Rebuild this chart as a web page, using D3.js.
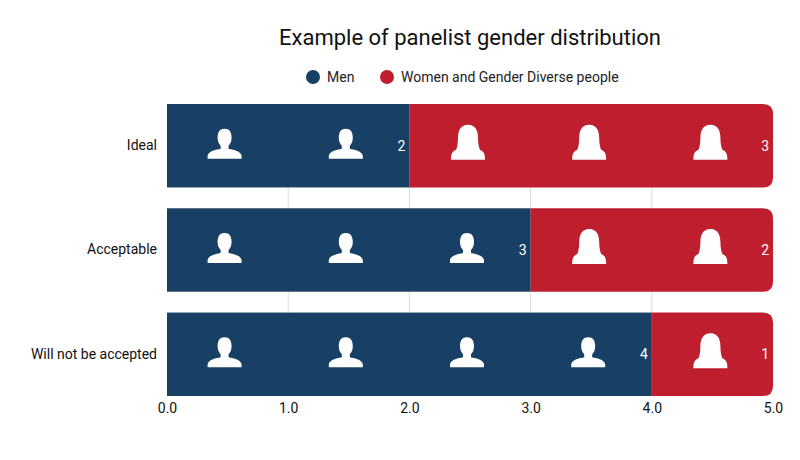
<!DOCTYPE html>
<meta charset="utf-8">
<body style="margin:0;background:#fff">
<div id="chart"></div>
<script src="https://d3js.org/d3.v7.min.js"></script>
<script>
const categories = ["Ideal", "Acceptable", "Will not be accepted"];
const men = [2, 3, 4];
const women = [3, 2, 1];
const xTicks = [0, 1, 2, 3, 4, 5];

const W = 800, H = 460;
const x = d3.scaleLinear().domain([0, 5]).range([167, 773]);
const y = d3.scaleBand().domain(categories).range([104, 396]).paddingInner(0.2);

const svg = d3.select("#chart").append("svg").attr("width", W).attr("height", H)
  .style("font-family", "Roboto, sans-serif");

svg.append("text").attr("x", 470).attr("y", 45).attr("text-anchor", "middle")
  .attr("font-size", 22).attr("fill", "#111").text("Example of panelist gender distribution");

// legend
const leg = [["Men", "#174064", 313], ["Women and Gender Diverse people", "#be1e2d", 387]];
leg.forEach(([t, c, lx]) => {
  svg.append("circle").attr("cx", lx).attr("cy", 77).attr("r", 7).attr("fill", c);
  svg.append("text").attr("x", lx + 14).attr("y", 82).attr("font-size", 14).attr("fill", "#222").text(t);
});

// grid
svg.append("g").selectAll("line").data(xTicks.slice(1, 5)).join("line")
  .attr("x1", d => x(d)).attr("x2", d => x(d)).attr("y1", 104).attr("y2", 396)
  .attr("stroke", "#ddd");

// x axis
svg.append("g").attr("transform", "translate(0,396)")
  .call(d3.axisBottom(x).tickValues(xTicks).tickSize(0).tickPadding(7))
  .call(g => g.select(".domain").remove())
  .call(g => g.selectAll("text").attr("font-size", 14).attr("fill", "#111").style("font-family", "Roboto, sans-serif"));

// y labels
svg.append("g").attr("transform", "translate(157,0)")
  .call(d3.axisLeft(y).tickSize(0).tickPadding(0))
  .call(g => g.select(".domain").remove())
  .call(g => g.selectAll("text").attr("font-size", 14).attr("fill", "#111").style("font-family", "Roboto, sans-serif"));

const manPath = "M0,-16 C-6,-16 -7,-11 -7,-7 C-7,-4 -6,-1 -4,1 L-4,4 C-8,5 -16,6 -17,11 L-17,14 L17,14 L17,11 C16,6 8,5 4,4 L4,1 C6,-1 7,-4 7,-7 C7,-11 6,-16 0,-16 Z";
const womanPath = "M0,-19 C-8,-19 -10,-12 -10,-6 C-10,0 -11,4 -12,6 C-16,8 -17,10 -17,16 L17,16 C17,10 16,8 12,6 C11,4 10,0 10,-6 C10,-12 8,-19 0,-19 Z";

categories.forEach((c, i) => {
  const y0 = y(c), h = y.bandwidth();
  const m = men[i], w = women[i];
  svg.append("rect").attr("x", x(0)).attr("y", y0).attr("width", x(m) - x(0)).attr("height", h).attr("fill", "#174064");
  // red segment with rounded right corners
  const xa = x(m), xb = x(m + w), r = 10;
  svg.append("path").attr("fill", "#be1e2d")
    .attr("d", `M${xa},${y0} H${xb - r} Q${xb},${y0} ${xb},${y0 + r} V${y0 + h - r} Q${xb},${y0 + h} ${xb - r},${y0 + h} H${xa} Z`);
  const cy = y0 + h / 2;
  d3.range(m).forEach(k => svg.append("path").attr("d", manPath).attr("fill", "#fff")
    .attr("transform", `translate(${x(k + 0.5) - 3},${cy - 1})`));
  d3.range(w).forEach(k => svg.append("path").attr("d", womanPath).attr("fill", "#fff")
    .attr("transform", `translate(${x(m + k + 0.5) - 2},${cy - 2})`));
  [[m, m], [m + w, w]].forEach(([pos, v]) => svg.append("text")
    .attr("x", x(pos) - 4).attr("y", cy + 5).attr("text-anchor", "end")
    .attr("font-size", 14).attr("fill", "#fff").text(v));
});
</script>
</body>
